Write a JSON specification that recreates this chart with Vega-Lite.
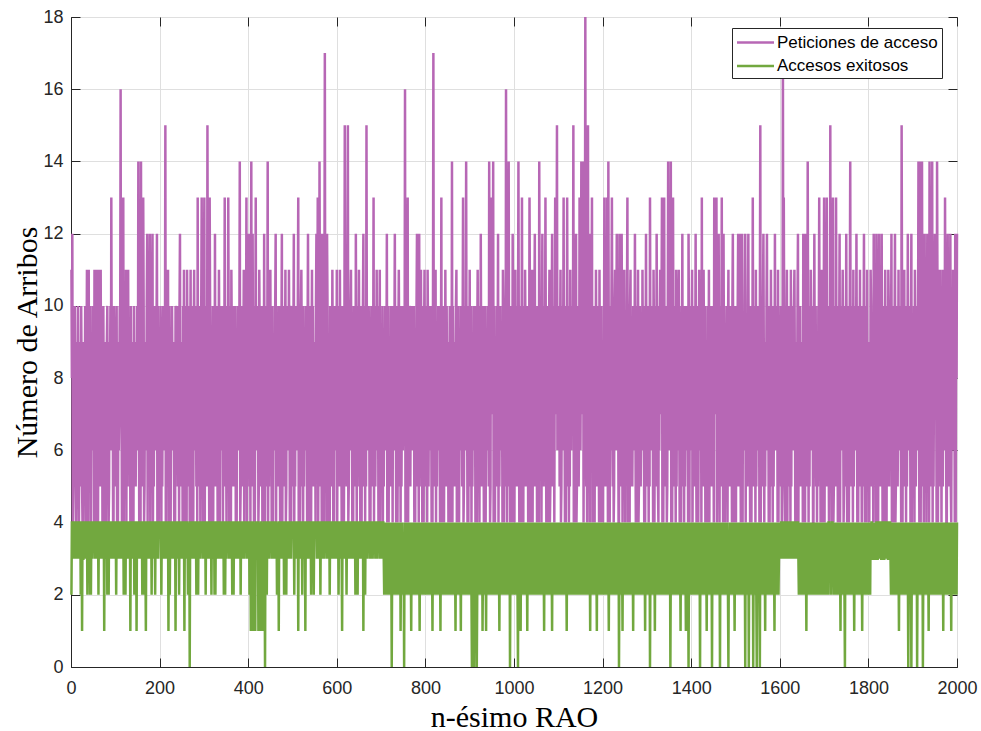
{
  "$schema": "https://vega.github.io/schema/vega-lite/v6.json",
  "width": 886,
  "height": 650,
  "autosize": {"type": "none"},
  "padding": {"left": 71, "top": 17, "right": 24, "bottom": 64},
  "background": "#ffffff",
  "config": {
    "view": {"stroke": "#262626", "strokeWidth": 1},
    "axis": {
      "labelFont": "Liberation Sans",
      "labelFontSize": 18,
      "labelColor": "#262626",
      "titleFont": "Liberation Serif",
      "titleFontSize": 30,
      "titleFontWeight": "normal",
      "titleColor": "#000000",
      "domainColor": "#262626",
      "tickColor": "#262626",
      "tickSize": -9,
      "tickWidth": 1,
      "gridColor": "#dfdfdf",
      "gridWidth": 1,
      "format": "d"
    },
    "legend": {
      "orient": "none",
      "legendX": 661,
      "legendY": 11,
      "labelFont": "Liberation Sans",
      "labelFontSize": 17,
      "labelColor": "#000000",
      "labelLimit": 0,
      "symbolType": "M-2,0H2",
      "symbolSize": 342,
      "symbolOffset": 9,
      "symbolStrokeWidth": 2.5,
      "strokeColor": "#262626",
      "fillColor": "#ffffff",
      "padding": 4,
      "rowPadding": 4.5,
      "labelOffset": 11
    }
  },
  "data": {
    "values": "n,peticiones,exitosos\n1,11,2\n2,8,4\n3,12,4\n4,4,4\n5,5,3\n6,9,4\n7,5,4\n8,8,3\n9,10,4\n10,7,4\n11,4,4\n12,4,3\n13,8,4\n14,9,4\n15,7,3\n16,10,4\n17,6,4\n18,4,4\n19,8,3\n20,7,4\n21,9,4\n22,5,2\n23,10,4\n24,8,4\n25,5,1\n26,4,4\n27,9,3\n28,4,3\n29,6,4\n30,8,4\n31,7,4\n32,10,3\n33,9,4\n34,4,4\n35,8,4\n36,11,4\n37,7,2\n38,4,4\n39,9,4\n40,11,3\n41,5,4\n42,8,4\n43,10,2\n44,4,4\n45,4,2\n46,9,4\n47,8,4\n48,6,3\n49,10,4\n50,7,4\n51,8,4\n52,4,4\n53,11,4\n54,7,3\n55,9,4\n56,4,4\n57,10,4\n58,11,4\n59,6,3\n60,8,4\n61,4,4\n62,9,2\n63,11,4\n64,5,4\n65,8,4\n66,10,3\n67,11,4\n68,7,4\n69,5,3\n70,9,4\n71,4,4\n72,8,4\n73,10,3\n74,7,4\n75,4,1\n76,9,4\n77,8,4\n78,6,3\n79,4,4\n80,7,4\n81,9,4\n82,10,2\n83,5,4\n84,8,4\n85,4,2\n86,5,4\n87,9,4\n88,8,3\n89,10,4\n90,6,4\n91,13,4\n92,8,4\n93,7,3\n94,9,4\n95,4,4\n96,4,3\n97,10,4\n98,8,4\n99,7,4\n100,9,3\n101,5,4\n102,8,2\n103,10,4\n104,4,4\n105,9,4\n106,4,3\n107,8,4\n108,6,3\n109,7,4\n110,10,4\n111,9,4\n112,16,4\n113,7,3\n114,8,4\n115,4,4\n116,10,4\n117,8,3\n118,13,4\n119,4,2\n120,7,4\n121,9,4\n122,8,4\n123,5,2\n124,11,4\n125,4,4\n126,10,4\n127,8,3\n128,5,4\n129,11,4\n130,6,4\n131,8,3\n132,7,4\n133,9,4\n134,4,1\n135,10,4\n136,4,4\n137,8,3\n138,7,4\n139,4,3\n140,9,4\n141,4,4\n142,10,4\n143,5,2\n144,8,4\n145,9,4\n146,5,2\n147,7,4\n148,6,1\n149,10,4\n150,8,4\n151,7,4\n152,14,4\n153,9,4\n154,4,3\n155,8,4\n156,10,4\n157,4,3\n158,14,4\n159,7,4\n160,9,4\n161,5,2\n162,8,4\n163,13,4\n164,10,4\n165,4,4\n166,5,2\n167,9,4\n168,6,3\n169,8,1\n170,7,4\n171,10,4\n172,12,4\n173,4,3\n174,9,4\n175,8,4\n176,7,3\n177,10,4\n178,12,4\n179,4,3\n180,8,4\n181,9,4\n182,5,2\n183,10,4\n184,12,4\n185,4,4\n186,8,3\n187,5,4\n188,9,4\n189,10,4\n190,6,2\n191,7,4\n192,8,4\n193,9,3\n194,12,4\n195,4,4\n196,10,4\n197,7,3\n198,4,4\n199,8,4\n200,9,4\n201,5,4\n202,10,4\n203,8,4\n204,4,2\n205,9,4\n206,5,4\n207,8,4\n208,10,4\n209,6,3\n210,7,4\n211,9,4\n212,8,4\n213,15,4\n214,4,3\n215,10,4\n216,7,4\n217,8,3\n218,9,4\n219,11,4\n220,4,1\n221,4,4\n222,10,4\n223,5,2\n224,8,4\n225,4,3\n226,9,4\n227,7,4\n228,10,4\n229,8,3\n230,6,4\n231,9,4\n232,7,4\n233,4,3\n234,8,4\n235,4,4\n236,10,1\n237,9,4\n238,7,3\n239,8,4\n240,10,4\n241,5,4\n242,8,4\n243,9,4\n244,4,2\n245,10,4\n246,12,4\n247,5,3\n248,8,4\n249,7,4\n250,9,4\n251,8,4\n252,4,3\n253,10,4\n254,7,4\n255,11,4\n256,4,1\n257,9,4\n258,8,4\n259,6,3\n260,10,4\n261,4,4\n262,11,4\n263,8,4\n264,5,2\n265,9,4\n266,5,3\n267,10,4\n268,4,0\n269,8,4\n270,11,4\n271,4,3\n272,9,4\n273,7,4\n274,10,4\n275,8,4\n276,4,3\n277,9,4\n278,11,4\n279,7,4\n280,6,3\n281,10,4\n282,8,4\n283,5,2\n284,9,4\n285,4,4\n286,13,4\n287,5,2\n288,8,4\n289,10,4\n290,7,4\n291,9,4\n292,4,3\n293,8,4\n294,10,4\n295,13,4\n296,7,4\n297,9,4\n298,4,3\n299,8,4\n300,10,4\n301,13,4\n302,4,4\n303,9,4\n304,5,2\n305,10,4\n306,8,4\n307,5,3\n308,15,4\n309,9,4\n310,7,4\n311,8,4\n312,4,3\n313,13,4\n314,10,4\n315,7,4\n316,9,4\n317,4,2\n318,8,4\n319,6,3\n320,10,4\n321,4,4\n322,9,4\n323,8,4\n324,5,2\n325,12,4\n326,5,2\n327,10,4\n328,7,4\n329,9,4\n330,8,3\n331,4,4\n332,10,4\n333,7,3\n334,11,4\n335,8,4\n336,4,3\n337,9,4\n338,7,4\n339,10,4\n340,6,3\n341,8,4\n342,9,4\n343,4,4\n344,10,4\n345,5,2\n346,8,4\n347,13,4\n348,5,2\n349,9,4\n350,7,4\n351,4,3\n352,10,4\n353,8,4\n354,7,4\n355,13,4\n356,9,4\n357,4,3\n358,8,4\n359,10,4\n360,6,3\n361,4,4\n362,11,4\n363,9,4\n364,5,2\n365,8,4\n366,10,4\n367,5,2\n368,7,4\n369,9,4\n370,8,4\n371,10,4\n372,4,3\n373,8,4\n374,4,3\n375,9,4\n376,7,4\n377,10,4\n378,6,3\n379,8,4\n380,9,4\n381,14,4\n382,4,4\n383,5,2\n384,10,4\n385,8,4\n386,5,3\n387,9,4\n388,7,4\n389,8,4\n390,11,4\n391,4,3\n392,9,4\n393,7,4\n394,10,4\n395,8,4\n396,13,4\n397,4,3\n398,9,4\n399,7,4\n400,10,4\n401,12,4\n402,8,4\n403,5,2\n404,9,4\n405,4,4\n406,10,1\n407,14,4\n408,5,3\n409,8,1\n410,12,4\n411,7,4\n412,9,2\n413,4,1\n414,10,4\n415,4,3\n416,8,1\n417,13,4\n418,7,4\n419,9,3\n420,6,4\n421,8,4\n422,10,4\n423,4,1\n424,5,2\n425,11,4\n426,9,1\n427,5,2\n428,8,4\n429,10,4\n430,7,1\n431,9,4\n432,4,3\n433,8,4\n434,10,1\n435,4,4\n436,12,4\n437,7,3\n438,4,0\n439,9,4\n440,8,4\n441,10,4\n442,5,2\n443,8,4\n444,14,4\n445,4,4\n446,9,4\n447,5,3\n448,10,4\n449,8,4\n450,11,4\n451,7,4\n452,9,4\n453,4,3\n454,8,4\n455,10,4\n456,4,3\n457,9,4\n458,7,4\n459,8,4\n460,6,3\n461,10,4\n462,12,4\n463,4,4\n464,9,4\n465,5,2\n466,8,4\n467,5,2\n468,10,4\n469,7,1\n470,9,4\n471,8,4\n472,4,3\n473,10,4\n474,7,4\n475,9,4\n476,12,4\n477,4,3\n478,8,4\n479,7,4\n480,10,4\n481,5,2\n482,9,4\n483,8,4\n484,11,4\n485,4,4\n486,5,2\n487,10,4\n488,8,4\n489,6,3\n490,9,4\n491,7,4\n492,11,4\n493,8,4\n494,4,3\n495,10,4\n496,9,4\n497,4,3\n498,7,4\n499,8,4\n500,10,4\n501,5,4\n502,9,4\n503,12,4\n504,4,2\n505,8,4\n506,5,3\n507,10,4\n508,9,4\n509,6,4\n510,8,3\n511,7,4\n512,10,4\n513,13,1\n514,4,4\n515,9,4\n516,8,3\n517,4,4\n518,7,4\n519,10,4\n520,11,4\n521,8,4\n522,5,2\n523,9,4\n524,4,4\n525,10,4\n526,5,3\n527,8,4\n528,9,4\n529,6,1\n530,7,4\n531,10,4\n532,8,4\n533,4,3\n534,9,4\n535,12,4\n536,7,4\n537,4,3\n538,8,4\n539,10,4\n540,6,4\n541,9,4\n542,4,2\n543,8,4\n544,11,4\n545,5,4\n546,10,4\n547,8,4\n548,5,2\n549,9,4\n550,7,4\n551,8,4\n552,4,4\n553,10,4\n554,12,4\n555,7,3\n556,9,4\n557,13,4\n558,4,3\n559,8,4\n560,7,4\n561,14,4\n562,9,4\n563,5,2\n564,10,4\n565,8,4\n566,4,4\n567,12,4\n568,5,3\n569,9,4\n570,8,4\n571,4,3\n572,10,4\n573,17,4\n574,8,4\n575,7,4\n576,9,4\n577,4,3\n578,12,4\n579,10,4\n580,6,3\n581,8,4\n582,4,4\n583,9,4\n584,4,2\n585,10,4\n586,8,4\n587,5,3\n588,9,4\n589,7,4\n590,11,4\n591,8,4\n592,4,3\n593,10,4\n594,4,3\n595,9,4\n596,7,4\n597,8,4\n598,10,4\n599,6,3\n600,11,4\n601,4,4\n602,9,4\n603,8,4\n604,5,2\n605,10,4\n606,5,3\n607,11,4\n608,8,4\n609,9,4\n610,7,4\n611,4,3\n612,10,1\n613,8,4\n614,7,4\n615,9,4\n616,4,3\n617,8,4\n618,15,4\n619,10,4\n620,7,4\n621,8,4\n622,5,2\n623,9,4\n624,10,4\n625,15,4\n626,4,4\n627,5,3\n628,8,4\n629,9,4\n630,6,3\n631,10,4\n632,11,4\n633,7,4\n634,8,4\n635,4,3\n636,9,4\n637,4,3\n638,10,4\n639,8,4\n640,7,4\n641,9,4\n642,5,2\n643,12,4\n644,8,4\n645,4,4\n646,10,4\n647,5,2\n648,9,4\n649,8,4\n650,11,4\n651,7,4\n652,9,4\n653,4,3\n654,10,4\n655,8,4\n656,4,3\n657,9,4\n658,7,4\n659,10,4\n660,12,1\n661,5,4\n662,8,4\n663,9,4\n664,4,2\n665,10,4\n666,5,4\n667,15,4\n668,8,3\n669,6,4\n670,9,4\n671,7,4\n672,10,4\n673,8,4\n674,4,3\n675,9,4\n676,4,3\n677,8,4\n678,10,4\n679,7,4\n680,9,4\n681,5,3\n682,8,4\n683,13,4\n684,4,4\n685,9,4\n686,10,4\n687,5,3\n688,8,4\n689,6,4\n690,11,4\n691,8,4\n692,7,3\n693,9,4\n694,4,4\n695,10,4\n696,8,4\n697,11,4\n698,4,3\n699,9,4\n700,7,4\n701,8,4\n702,5,4\n703,10,3\n704,4,4\n705,9,4\n706,5,3\n707,8,2\n708,7,3\n709,10,4\n710,6,2\n711,9,3\n712,8,4\n713,12,2\n714,4,3\n715,7,2\n716,10,4\n717,4,3\n718,8,2\n719,9,4\n720,7,3\n721,5,2\n722,10,4\n723,8,3\n724,5,0\n725,9,3\n726,4,2\n727,10,4\n728,8,3\n729,6,2\n730,9,4\n731,12,3\n732,7,2\n733,9,4\n734,4,3\n735,8,2\n736,10,4\n737,4,3\n738,7,2\n739,9,3\n740,11,4\n741,8,2\n742,5,3\n743,10,4\n744,4,1\n745,9,3\n746,5,2\n747,8,4\n748,10,3\n749,6,2\n750,7,3\n751,9,3\n752,7,0\n753,8,4\n754,16,2\n755,4,3\n756,10,4\n757,8,2\n758,4,3\n759,9,4\n760,13,3\n761,4,2\n762,8,4\n763,5,3\n764,10,3\n765,9,2\n766,5,4\n767,8,3\n768,7,1\n769,10,4\n770,6,2\n771,9,3\n772,8,4\n773,7,2\n774,10,3\n775,4,3\n776,8,4\n777,4,2\n778,9,3\n779,7,4\n780,10,3\n781,12,2\n782,5,4\n783,8,3\n784,9,2\n785,4,4\n786,12,3\n787,5,1\n788,8,4\n789,10,3\n790,11,2\n791,7,4\n792,9,3\n793,4,2\n794,8,4\n795,10,3\n796,4,2\n797,9,4\n798,11,3\n799,7,2\n800,8,4\n801,5,3\n802,10,2\n803,8,4\n804,4,3\n805,11,2\n806,9,4\n807,5,3\n808,8,2\n809,6,4\n810,10,3\n811,7,4\n812,9,2\n813,8,3\n814,4,4\n815,10,3\n816,4,1\n817,9,4\n818,17,3\n819,7,2\n820,8,4\n821,5,3\n822,10,2\n823,11,4\n824,4,3\n825,9,4\n826,5,2\n827,8,3\n828,6,4\n829,10,2\n830,7,3\n831,9,2\n832,8,4\n833,4,3\n834,10,1\n835,7,4\n836,13,3\n837,4,2\n838,9,4\n839,8,3\n840,6,2\n841,10,4\n842,4,3\n843,9,2\n844,5,4\n845,11,3\n846,8,2\n847,5,4\n848,10,3\n849,7,4\n850,9,2\n851,8,3\n852,4,4\n853,9,2\n854,7,3\n855,10,4\n856,4,2\n857,8,3\n858,9,4\n859,6,3\n860,14,2\n861,4,4\n862,10,3\n863,8,2\n864,5,3\n865,9,4\n866,5,2\n867,8,3\n868,7,1\n869,10,4\n870,11,3\n871,4,2\n872,9,4\n873,7,3\n874,8,2\n875,10,4\n876,4,3\n877,8,2\n878,6,4\n879,9,3\n880,7,1\n881,10,4\n882,8,3\n883,5,2\n884,9,4\n885,13,3\n886,4,2\n887,5,4\n888,8,3\n889,10,2\n890,6,4\n891,9,3\n892,14,2\n893,7,4\n894,8,3\n895,4,2\n896,10,4\n897,4,3\n898,9,2\n899,7,4\n900,11,3\n901,5,2\n902,8,3\n903,10,4\n904,4,2\n905,9,0\n906,5,3\n907,8,2\n908,6,4\n909,10,3\n910,7,0\n911,9,2\n912,8,3\n913,4,4\n914,10,2\n915,7,3\n916,4,0\n917,9,2\n918,11,4\n919,8,3\n920,6,2\n921,10,4\n922,4,3\n923,9,2\n924,5,3\n925,12,4\n926,8,2\n927,5,3\n928,9,4\n929,7,1\n930,10,3\n931,8,2\n932,4,4\n933,9,3\n934,7,2\n935,10,4\n936,4,3\n937,8,1\n938,9,4\n939,6,3\n940,7,2\n941,10,4\n942,8,3\n943,5,2\n944,14,4\n945,9,3\n946,4,2\n947,5,4\n948,13,3\n949,8,2\n950,10,4\n951,7,3\n952,9,2\n953,14,4\n954,4,3\n955,8,2\n956,10,4\n957,4,3\n958,9,2\n959,7,4\n960,8,3\n961,5,2\n962,10,4\n963,8,3\n964,12,2\n965,4,4\n966,9,3\n967,5,1\n968,8,4\n969,10,3\n970,6,2\n971,9,3\n972,7,4\n973,8,2\n974,4,3\n975,11,4\n976,10,3\n977,4,2\n978,8,4\n979,7,3\n980,9,2\n981,5,4\n982,16,3\n983,8,2\n984,4,4\n985,10,3\n986,5,2\n987,9,4\n988,14,3\n989,7,2\n990,8,4\n991,4,0\n992,9,3\n993,7,2\n994,10,4\n995,8,3\n996,4,2\n997,12,4\n998,9,3\n999,6,2\n1000,8,4\n1001,4,3\n1002,9,2\n1003,11,4\n1004,5,3\n1005,8,2\n1006,10,4\n1007,5,3\n1008,7,2\n1009,9,0\n1010,14,4\n1011,8,3\n1012,4,2\n1013,10,4\n1014,7,3\n1015,9,1\n1016,4,4\n1017,8,3\n1018,13,2\n1019,6,4\n1020,9,3\n1021,4,2\n1022,10,4\n1023,8,3\n1024,5,2\n1025,11,4\n1026,9,3\n1027,5,2\n1028,8,4\n1029,10,3\n1030,7,1\n1031,9,4\n1032,4,3\n1033,8,2\n1034,7,4\n1035,13,3\n1036,10,2\n1037,4,4\n1038,9,3\n1039,8,2\n1040,6,4\n1041,11,3\n1042,4,2\n1043,9,4\n1044,5,3\n1045,8,4\n1046,10,2\n1047,12,3\n1048,5,4\n1049,8,2\n1050,7,3\n1051,9,4\n1052,4,3\n1053,10,2\n1054,8,4\n1055,7,3\n1056,4,2\n1057,14,4\n1058,9,3\n1059,6,2\n1060,8,4\n1061,10,3\n1062,4,2\n1063,9,4\n1064,12,3\n1065,5,2\n1066,8,4\n1067,5,3\n1068,10,1\n1069,7,4\n1070,9,3\n1071,13,2\n1072,8,4\n1073,4,3\n1074,9,2\n1075,7,4\n1076,10,3\n1077,4,2\n1078,8,4\n1079,9,3\n1080,11,2\n1081,4,4\n1082,5,3\n1083,10,2\n1084,8,4\n1085,9,3\n1086,12,1\n1087,5,4\n1088,7,3\n1089,8,2\n1090,10,4\n1091,4,3\n1092,9,2\n1093,13,4\n1094,7,3\n1095,8,2\n1096,10,4\n1097,15,3\n1098,6,2\n1099,9,4\n1100,7,3\n1101,8,2\n1102,10,4\n1103,5,3\n1104,9,2\n1105,11,4\n1106,4,3\n1107,5,2\n1108,8,4\n1109,10,3\n1110,6,2\n1111,9,4\n1112,13,3\n1113,7,2\n1114,8,4\n1115,4,3\n1116,10,2\n1117,4,4\n1118,9,3\n1119,7,1\n1120,13,4\n1121,8,3\n1122,5,2\n1123,10,4\n1124,4,3\n1125,9,2\n1126,5,4\n1127,11,3\n1128,8,2\n1129,6,4\n1130,10,3\n1131,7,2\n1132,9,4\n1133,8,3\n1134,15,2\n1135,4,4\n1136,10,3\n1137,4,2\n1138,8,4\n1139,9,3\n1140,12,2\n1141,4,4\n1142,5,3\n1143,10,2\n1144,8,4\n1145,9,3\n1146,5,2\n1147,7,4\n1148,13,3\n1149,8,2\n1150,6,4\n1151,9,3\n1152,14,2\n1153,7,4\n1154,8,3\n1155,10,2\n1156,14,4\n1157,4,3\n1158,9,2\n1159,7,4\n1160,10,3\n1161,18,4\n1162,8,3\n1163,5,2\n1164,9,4\n1165,4,3\n1166,10,2\n1167,15,4\n1168,5,3\n1169,8,2\n1170,9,4\n1171,4,3\n1172,12,1\n1173,8,4\n1174,7,3\n1175,10,2\n1176,13,4\n1177,4,3\n1178,9,2\n1179,8,4\n1180,6,3\n1181,10,2\n1182,4,4\n1183,9,3\n1184,5,2\n1185,11,4\n1186,8,3\n1187,5,1\n1188,10,4\n1189,7,3\n1190,9,2\n1191,8,4\n1192,4,3\n1193,11,2\n1194,7,4\n1195,9,3\n1196,10,2\n1197,4,4\n1198,8,3\n1199,6,2\n1200,9,4\n1201,4,3\n1202,10,2\n1203,8,4\n1204,13,3\n1205,5,2\n1206,9,4\n1207,5,3\n1208,8,2\n1209,7,4\n1210,13,3\n1211,9,2\n1212,4,4\n1213,14,3\n1214,8,1\n1215,10,4\n1216,4,3\n1217,7,2\n1218,9,4\n1219,6,3\n1220,10,2\n1221,13,4\n1222,8,3\n1223,5,2\n1224,9,4\n1225,4,3\n1226,5,2\n1227,10,4\n1228,11,3\n1229,8,2\n1230,6,4\n1231,9,3\n1232,12,2\n1233,7,4\n1234,10,3\n1235,8,2\n1236,4,4\n1237,4,0\n1238,12,3\n1239,9,2\n1240,7,4\n1241,8,3\n1242,5,2\n1243,12,4\n1244,9,3\n1245,4,1\n1246,10,4\n1247,5,3\n1248,8,2\n1249,11,4\n1250,7,3\n1251,4,2\n1252,9,4\n1253,8,3\n1254,7,2\n1255,10,4\n1256,13,3\n1257,4,2\n1258,9,4\n1259,6,3\n1260,8,2\n1261,4,4\n1262,10,3\n1263,11,2\n1264,5,4\n1265,9,3\n1266,8,2\n1267,5,4\n1268,7,3\n1269,10,1\n1270,6,4\n1271,9,3\n1272,8,2\n1273,12,4\n1274,7,3\n1275,4,2\n1276,10,4\n1277,4,3\n1278,9,2\n1279,8,4\n1280,11,3\n1281,4,2\n1282,5,4\n1283,9,3\n1284,10,2\n1285,8,4\n1286,5,3\n1287,7,2\n1288,9,4\n1289,6,3\n1290,11,2\n1291,8,4\n1292,10,3\n1293,7,2\n1294,4,4\n1295,9,3\n1296,4,1\n1297,8,4\n1298,12,3\n1299,7,2\n1300,10,4\n1301,5,3\n1302,9,2\n1303,8,4\n1304,4,3\n1305,10,2\n1306,5,4\n1307,13,0\n1308,8,3\n1309,6,2\n1310,9,4\n1311,7,3\n1312,10,2\n1313,8,4\n1314,4,3\n1315,11,2\n1316,9,4\n1317,4,3\n1318,8,1\n1319,7,4\n1320,10,3\n1321,5,2\n1322,12,4\n1323,9,3\n1324,8,2\n1325,5,4\n1326,4,3\n1327,10,2\n1328,6,4\n1329,9,3\n1330,11,2\n1331,8,4\n1332,7,3\n1333,10,2\n1334,13,4\n1335,4,3\n1336,9,2\n1337,4,4\n1338,8,3\n1339,13,2\n1340,7,4\n1341,9,3\n1342,5,2\n1343,10,4\n1344,8,3\n1345,4,2\n1346,5,4\n1347,9,3\n1348,14,2\n1349,8,4\n1350,6,3\n1351,7,2\n1352,9,4\n1353,8,0\n1354,14,3\n1355,4,2\n1356,10,4\n1357,4,3\n1358,8,2\n1359,13,4\n1360,7,3\n1361,9,2\n1362,5,4\n1363,10,3\n1364,8,2\n1365,4,4\n1366,11,3\n1367,5,2\n1368,9,4\n1369,6,3\n1370,8,2\n1371,10,4\n1372,11,3\n1373,7,2\n1374,4,4\n1375,9,3\n1376,8,1\n1377,4,4\n1378,10,3\n1379,7,2\n1380,12,4\n1381,5,3\n1382,9,2\n1383,8,4\n1384,4,3\n1385,10,2\n1386,5,4\n1387,8,3\n1388,9,1\n1389,6,4\n1390,10,3\n1391,7,2\n1392,8,4\n1393,4,3\n1394,12,0\n1395,9,3\n1396,4,2\n1397,10,4\n1398,7,3\n1399,8,2\n1400,6,4\n1401,9,3\n1402,11,2\n1403,4,4\n1404,8,3\n1405,5,2\n1406,10,4\n1407,5,3\n1408,9,2\n1409,8,4\n1410,12,3\n1411,7,2\n1412,4,4\n1413,10,3\n1414,9,2\n1415,8,4\n1416,4,3\n1417,7,2\n1418,11,4\n1419,6,3\n1420,9,0\n1421,8,4\n1422,10,3\n1423,4,2\n1424,13,4\n1425,5,3\n1426,9,2\n1427,5,4\n1428,11,3\n1429,8,2\n1430,7,4\n1431,10,3\n1432,4,2\n1433,9,4\n1434,8,3\n1435,7,1\n1436,4,4\n1437,10,3\n1438,8,2\n1439,6,4\n1440,11,3\n1441,4,2\n1442,9,4\n1443,8,3\n1444,5,2\n1445,10,4\n1446,5,3\n1447,7,0\n1448,9,4\n1449,8,3\n1450,10,2\n1451,4,4\n1452,13,3\n1453,9,2\n1454,8,4\n1455,7,3\n1456,10,2\n1457,13,4\n1458,4,3\n1459,8,2\n1460,9,4\n1461,5,3\n1462,12,2\n1463,8,4\n1464,4,3\n1465,9,0\n1466,10,4\n1467,5,3\n1468,8,2\n1469,13,4\n1470,7,3\n1471,9,2\n1472,4,4\n1473,12,3\n1474,8,2\n1475,10,4\n1476,4,3\n1477,7,2\n1478,9,4\n1479,6,3\n1480,8,2\n1481,10,4\n1482,4,3\n1483,9,2\n1484,11,0\n1485,5,3\n1486,8,2\n1487,5,4\n1488,10,3\n1489,7,2\n1490,9,4\n1491,8,3\n1492,4,2\n1493,10,4\n1494,12,3\n1495,7,2\n1496,9,4\n1497,4,3\n1498,8,1\n1499,6,4\n1500,10,3\n1501,4,2\n1502,9,4\n1503,8,3\n1504,5,2\n1505,10,4\n1506,12,3\n1507,5,2\n1508,8,4\n1509,9,3\n1510,12,2\n1511,7,4\n1512,4,3\n1513,10,2\n1514,8,4\n1515,12,3\n1516,4,2\n1517,9,4\n1518,7,3\n1519,8,2\n1520,6,4\n1521,10,3\n1522,12,0\n1523,4,4\n1524,9,3\n1525,5,2\n1526,8,4\n1527,5,3\n1528,10,2\n1529,12,4\n1530,7,0\n1531,9,3\n1532,8,2\n1533,4,4\n1534,10,3\n1535,7,2\n1536,4,4\n1537,9,3\n1538,8,2\n1539,13,4\n1540,7,0\n1541,5,3\n1542,10,4\n1543,8,2\n1544,9,3\n1545,4,4\n1546,11,3\n1547,5,2\n1548,8,0\n1549,6,4\n1550,10,3\n1551,8,2\n1552,7,4\n1553,9,3\n1554,4,2\n1555,10,0\n1556,15,4\n1557,4,3\n1558,8,2\n1559,7,4\n1560,9,3\n1561,5,2\n1562,10,4\n1563,12,3\n1564,8,2\n1565,4,4\n1566,9,3\n1567,5,1\n1568,8,4\n1569,6,3\n1570,10,2\n1571,12,4\n1572,7,3\n1573,9,2\n1574,8,4\n1575,4,3\n1576,10,2\n1577,4,4\n1578,9,3\n1579,7,2\n1580,11,4\n1581,8,3\n1582,5,2\n1583,10,4\n1584,4,3\n1585,9,2\n1586,5,4\n1587,8,3\n1588,7,1\n1589,12,4\n1590,6,3\n1591,9,4\n1592,8,3\n1593,7,2\n1594,10,4\n1595,4,3\n1596,11,4\n1597,4,2\n1598,8,3\n1599,9,4\n1600,7,3\n1601,8,4\n1602,10,3\n1603,5,4\n1604,9,4\n1605,4,3\n1606,5,4\n1607,17,3\n1608,8,4\n1609,13,4\n1610,9,3\n1611,7,4\n1612,4,4\n1613,10,3\n1614,8,4\n1615,9,4\n1616,11,3\n1617,4,4\n1618,7,4\n1619,8,3\n1620,10,4\n1621,5,3\n1622,9,4\n1623,8,4\n1624,4,3\n1625,11,4\n1626,5,4\n1627,10,3\n1628,8,4\n1629,6,4\n1630,9,4\n1631,7,3\n1632,10,4\n1633,11,4\n1634,8,3\n1635,4,4\n1636,9,3\n1637,4,4\n1638,8,4\n1639,7,3\n1640,10,4\n1641,12,4\n1642,4,3\n1643,9,2\n1644,5,4\n1645,8,3\n1646,10,4\n1647,5,2\n1648,9,3\n1649,7,4\n1650,8,3\n1651,9,2\n1652,4,4\n1653,12,3\n1654,8,2\n1655,7,4\n1656,10,3\n1657,4,2\n1658,12,4\n1659,9,3\n1660,7,1\n1661,8,4\n1662,5,3\n1663,14,2\n1664,9,4\n1665,4,3\n1666,10,2\n1667,5,4\n1668,8,3\n1669,6,2\n1670,11,4\n1671,9,3\n1672,7,2\n1673,8,4\n1674,10,3\n1675,4,2\n1676,4,4\n1677,9,3\n1678,12,2\n1679,7,4\n1680,8,3\n1681,10,4\n1682,5,3\n1683,9,2\n1684,4,3\n1685,8,4\n1686,5,2\n1687,10,4\n1688,9,3\n1689,13,2\n1690,7,4\n1691,8,3\n1692,4,2\n1693,9,4\n1694,11,3\n1695,7,2\n1696,10,4\n1697,4,3\n1698,8,2\n1699,9,4\n1700,13,3\n1701,4,4\n1702,9,3\n1703,8,2\n1704,5,4\n1705,10,3\n1706,13,2\n1707,5,4\n1708,8,3\n1709,9,2\n1710,7,4\n1711,4,4\n1712,10,4\n1713,8,3\n1714,15,4\n1715,7,2\n1716,9,4\n1717,4,3\n1718,8,4\n1719,10,4\n1720,13,3\n1721,4,2\n1722,5,3\n1723,9,4\n1724,8,3\n1725,10,2\n1726,5,4\n1727,13,3\n1728,7,2\n1729,9,4\n1730,8,3\n1731,4,2\n1732,10,4\n1733,7,3\n1734,9,2\n1735,12,4\n1736,4,3\n1737,8,1\n1738,7,4\n1739,10,3\n1740,6,2\n1741,9,4\n1742,11,3\n1743,8,2\n1744,4,4\n1745,5,3\n1746,10,2\n1747,5,0\n1748,9,4\n1749,8,3\n1750,12,2\n1751,8,4\n1752,4,3\n1753,10,2\n1754,7,4\n1755,9,3\n1756,4,2\n1757,8,4\n1758,10,3\n1759,14,2\n1760,7,4\n1761,9,3\n1762,5,2\n1763,8,4\n1764,10,3\n1765,4,2\n1766,11,4\n1767,5,3\n1768,9,1\n1769,8,4\n1770,6,3\n1771,10,2\n1772,7,4\n1773,12,3\n1774,8,2\n1775,4,4\n1776,9,3\n1777,4,2\n1778,8,4\n1779,10,3\n1780,7,2\n1781,11,4\n1782,5,3\n1783,9,2\n1784,8,4\n1785,4,3\n1786,10,1\n1787,5,4\n1788,8,3\n1789,9,2\n1790,12,4\n1791,7,3\n1792,4,2\n1793,10,4\n1794,8,3\n1795,9,2\n1796,4,4\n1797,11,3\n1798,7,2\n1799,8,4\n1800,6,3\n1801,9,2\n1802,4,4\n1803,8,3\n1804,5,2\n1805,11,4\n1806,10,3\n1807,5,4\n1808,8,4\n1809,9,3\n1810,7,3\n1811,4,4\n1812,12,3\n1813,8,4\n1814,9,3\n1815,7,3\n1816,10,4\n1817,4,3\n1818,12,4\n1819,8,4\n1820,6,3\n1821,9,3\n1822,4,4\n1823,10,3\n1824,12,4\n1825,5,4\n1826,8,3\n1827,5,4\n1828,9,4\n1829,7,3\n1830,12,3\n1831,8,4\n1832,4,3\n1833,10,4\n1834,9,4\n1835,7,3\n1836,4,3\n1837,8,4\n1838,11,3\n1839,6,4\n1840,10,4\n1841,4,3\n1842,9,4\n1843,8,4\n1844,5,3\n1845,11,3\n1846,10,4\n1847,5,3\n1848,8,4\n1849,9,4\n1850,7,3\n1851,8,2\n1852,12,4\n1853,4,3\n1854,9,2\n1855,7,4\n1856,10,3\n1857,4,2\n1858,8,4\n1859,9,3\n1860,12,2\n1861,4,4\n1862,5,3\n1863,10,2\n1864,8,4\n1865,9,3\n1866,5,2\n1867,7,4\n1868,11,3\n1869,6,1\n1870,10,4\n1871,8,3\n1872,9,2\n1873,7,4\n1874,4,3\n1875,15,2\n1876,10,4\n1877,4,3\n1878,8,2\n1879,9,4\n1880,7,3\n1881,11,2\n1882,5,4\n1883,8,3\n1884,10,2\n1885,4,4\n1886,9,3\n1887,5,2\n1888,8,4\n1889,12,3\n1890,6,0\n1891,9,4\n1892,7,3\n1893,10,2\n1894,8,4\n1895,4,3\n1896,9,2\n1897,12,0\n1898,4,3\n1899,8,4\n1900,7,2\n1901,8,3\n1902,5,2\n1903,10,4\n1904,4,3\n1905,11,2\n1906,9,4\n1907,5,3\n1908,8,2\n1909,6,4\n1910,10,0\n1911,7,3\n1912,9,2\n1913,14,4\n1914,8,3\n1915,4,2\n1916,10,4\n1917,14,3\n1918,4,2\n1919,9,4\n1920,7,3\n1921,14,2\n1922,8,4\n1923,5,0\n1924,10,3\n1925,4,2\n1926,9,4\n1927,12,3\n1928,5,2\n1929,8,4\n1930,10,3\n1931,4,4\n1932,9,3\n1933,12,2\n1934,7,4\n1935,8,3\n1936,10,1\n1937,4,4\n1938,14,3\n1939,9,2\n1940,7,4\n1941,8,3\n1942,5,2\n1943,10,4\n1944,14,3\n1945,4,2\n1946,9,4\n1947,5,3\n1948,8,2\n1949,10,4\n1950,12,3\n1951,7,2\n1952,9,4\n1953,8,3\n1954,4,2\n1955,14,4\n1956,10,3\n1957,4,2\n1958,8,4\n1959,9,3\n1960,7,2\n1961,11,4\n1962,5,3\n1963,8,2\n1964,10,4\n1965,4,3\n1966,9,2\n1967,11,4\n1968,5,3\n1969,8,1\n1970,6,4\n1971,9,3\n1972,7,2\n1973,13,4\n1974,8,3\n1975,10,2\n1976,4,4\n1977,4,3\n1978,9,2\n1979,12,4\n1980,7,3\n1981,8,2\n1982,5,4\n1983,10,3\n1984,9,2\n1985,12,4\n1986,5,3\n1987,4,1\n1988,8,4\n1989,10,3\n1990,6,2\n1991,11,4\n1992,8,3\n1993,7,2\n1994,9,4\n1995,4,3\n1996,12,2\n1997,4,4\n1998,10,3\n1999,8,2\n2000,12,4",
    "format": {"type": "csv", "parse": {"n": "number", "peticiones": "number", "exitosos": "number"}}
  },
  "layer": [
    {
      "layer": [
        {
          "mark": {"type": "line", "strokeWidth": 2.5, "interpolate": "linear"},
          "encoding": {
            "x": {
              "field": "n",
              "type": "quantitative",
              "scale": {"domain": [0, 2000], "nice": false, "zero": false},
              "axis": {
                "values": [0, 200, 400, 600, 800, 1000, 1200, 1400, 1600, 1800, 2000],
                "title": "n-ésimo RAO",
                "grid": true,
                "labelFlush": false,
                "labelOverlap": false,
                "labelPadding": 21,
                "titleX": 443,
                "titleY": 59,
                "titleBaseline": "alphabetic"
              }
            },
            "y": {
              "field": "peticiones",
              "type": "quantitative",
              "scale": {"domain": [0, 18], "nice": false},
              "axis": {
                "values": [0, 2, 4, 6, 8, 10, 12, 14, 16, 18],
                "title": "Número de Arribos",
                "grid": true,
                "labelPadding": 17,
                "titleX": -35,
                "titleY": 325,
                "titleAngle": 270,
                "titleAlign": "center",
                "titleBaseline": "alphabetic"
              }
            },
            "color": {
              "datum": "Peticiones de acceso",
              "type": "nominal",
              "scale": {
                "domain": ["Peticiones de acceso", "Accesos exitosos"],
                "range": ["#B767B5", "#72A83F"]
              },
              "legend": {"title": null}
            }
          }
        },
        {
          "mark": {"type": "line", "strokeWidth": 2.5, "interpolate": "linear"},
          "encoding": {
            "x": {"field": "n", "type": "quantitative", "scale": {"domain": [0, 2000], "nice": false, "zero": false}},
            "y": {"field": "exitosos", "type": "quantitative", "scale": {"domain": [0, 18], "nice": false}},
            "color": {"datum": "Accesos exitosos", "type": "nominal"}
          }
        }
      ]
    },
    {
      "mark": {"type": "line", "opacity": 0},
      "encoding": {
        "x": {
          "field": "n",
          "type": "quantitative",
          "scale": {"domain": [0, 2000], "nice": false, "zero": false},
          "axis": {
            "orient": "top",
            "values": [0, 200, 400, 600, 800, 1000, 1200, 1400, 1600, 1800, 2000],
            "labels": false,
            "grid": false,
            "domain": false,
            "title": null
          }
        },
        "y": {
          "field": "exitosos",
          "type": "quantitative",
          "scale": {"domain": [0, 18], "nice": false},
          "axis": {
            "orient": "right",
            "values": [0, 2, 4, 6, 8, 10, 12, 14, 16, 18],
            "labels": false,
            "grid": false,
            "domain": false,
            "title": null
          }
        }
      }
    }
  ],
  "resolve": {"axis": {"x": "independent", "y": "independent"}}
}
